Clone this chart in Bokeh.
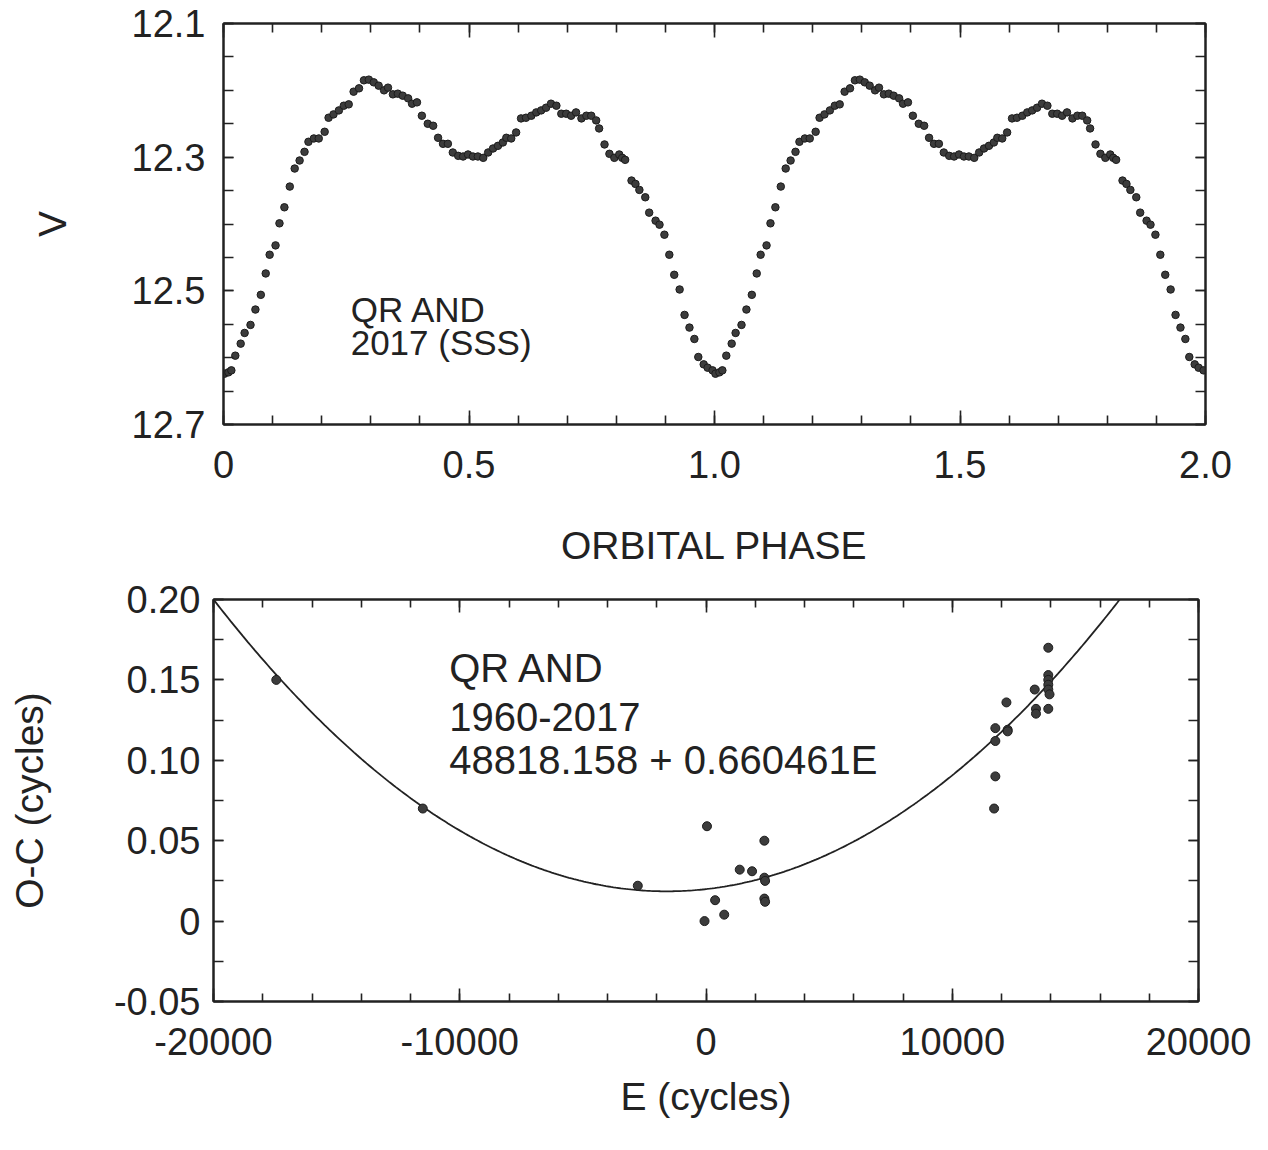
import numpy as np
from bokeh.plotting import figure
from bokeh.layouts import column, row
from bokeh.models import Range1d, LinearAxis, FixedTicker, Label, Spacer
from bokeh.embed import file_html
from bokeh.resources import INLINE

# ---------------- data: light curve (phase 0-1, plotted twice) ----------------
phase = [0.002, 0.010, 0.016, 0.024, 0.035, 0.043, 0.055, 0.065, 0.076, 0.086,
         0.094, 0.106, 0.114, 0.124, 0.135, 0.145, 0.155, 0.165, 0.173, 0.184,
         0.194, 0.206, 0.214, 0.224, 0.235, 0.245, 0.255, 0.265, 0.276, 0.286,
         0.296, 0.306, 0.316, 0.327, 0.335, 0.345, 0.355, 0.365, 0.376, 0.384,
         0.394, 0.404, 0.416, 0.427, 0.437, 0.447, 0.457, 0.467, 0.478, 0.488,
         0.498, 0.508, 0.518, 0.529, 0.539, 0.549, 0.559, 0.569, 0.576, 0.586,
         0.596, 0.606, 0.616, 0.627, 0.637, 0.647, 0.657, 0.667, 0.678, 0.688,
         0.698, 0.708, 0.718, 0.729, 0.739, 0.749, 0.759, 0.765, 0.776, 0.786,
         0.796, 0.806, 0.812, 0.818, 0.831, 0.839, 0.847, 0.859, 0.867, 0.880,
         0.888, 0.898, 0.908, 0.918, 0.929, 0.939, 0.949, 0.959, 0.967, 0.978,
         0.986, 0.996]
vmag = [12.624, 12.622, 12.619, 12.597, 12.579, 12.563, 12.551, 12.528, 12.506, 12.474,
        12.446, 12.432, 12.399, 12.375, 12.344, 12.317, 12.305, 12.292, 12.277, 12.272,
        12.272, 12.262, 12.241, 12.236, 12.230, 12.223, 12.221, 12.202, 12.197, 12.185,
        12.184, 12.188, 12.193, 12.200, 12.196, 12.206, 12.205, 12.208, 12.212, 12.220,
        12.218, 12.238, 12.250, 12.253, 12.271, 12.280, 12.280, 12.293, 12.298, 12.299,
        12.296, 12.299, 12.299, 12.301, 12.293, 12.287, 12.283, 12.278, 12.271, 12.272,
        12.263, 12.242, 12.241, 12.238, 12.233, 12.230, 12.226, 12.220, 12.223, 12.235,
        12.235, 12.238, 12.233, 12.242, 12.238, 12.238, 12.245, 12.257, 12.281, 12.295,
        12.301, 12.296, 12.301, 12.304, 12.335, 12.340, 12.349, 12.360, 12.383, 12.395,
        12.401, 12.416, 12.446, 12.476, 12.498, 12.536, 12.555, 12.572, 12.599, 12.610,
        12.615, 12.619]

phase_ticks = [0, 0.5, 1.0, 1.5, 2.0]
phase_tick_labels = ["0", "0.5", "1.0", "1.5", "2.0"]
phase_minor = [round(0.1 * i, 1) for i in range(21)]
v_ticks = [12.1, 12.3, 12.5, 12.7]
v_tick_labels = ["12.1", "12.3", "12.5", "12.7"]
v_minor = [round(12.1 + 0.05 * i, 2) for i in range(13)]

# ---------------- data: O-C diagram ----------------
epoch = [-17450, -11500, -2770, -60, 40, 370, 740, 1370, 1870, 2370, 2370, 2400,
         2370, 2400, 11700, 11750, 11750, 11750, 12200, 12250, 12250, 13350, 13400,
         13400, 13900, 13900, 13900, 13900, 13900, 13950, 13900]
oc = [0.150, 0.070, 0.022, 0.000, 0.059, 0.013, 0.004, 0.032, 0.031, 0.050, 0.027, 0.025,
      0.014, 0.012, 0.070, 0.090, 0.112, 0.120, 0.136, 0.119, 0.118, 0.144, 0.132,
      0.129, 0.170, 0.153, 0.150, 0.147, 0.144, 0.141, 0.132]
# quadratic ephemeris fit: O-C = c0 + c1*E + c2*E^2
fit_c0, fit_c1, fit_c2 = 0.0199, 1.715e-6, 5.36e-10

e_ticks = [-20000, -10000, 0, 10000, 20000]
e_tick_labels = ["-20000", "-10000", "0", "10000", "20000"]
e_minor = list(range(-20000, 20001, 2000))
oc_ticks = [-0.05, 0.0, 0.05, 0.10, 0.15, 0.20]
oc_tick_labels = ["-0.05", "0", "0.05", "0.10", "0.15", "0.20"]
oc_minor = [round(-0.05 + 0.025 * i, 3) for i in range(11)]

FONT = "Liberation Sans"
INK = "#222222"
TICK_FS = "38px"
LABEL_FS = "39px"


def style_axis(ax, major_in, minor_in, show_labels, overrides=None, standoff=0):
    ax.axis_line_color = INK
    ax.axis_line_width = 2
    ax.major_tick_in = major_in
    ax.major_tick_out = 0
    ax.minor_tick_in = minor_in
    ax.minor_tick_out = 0
    ax.major_tick_line_color = INK
    ax.minor_tick_line_color = INK
    ax.major_tick_line_width = 1.6
    ax.minor_tick_line_width = 1.6
    if show_labels:
        ax.major_label_text_font = FONT
        ax.major_label_text_font_size = TICK_FS
        ax.major_label_text_color = INK
        ax.major_label_standoff = standoff
        if overrides:
            ax.major_label_overrides = overrides
    else:
        ax.major_label_text_font_size = "1px"
        ax.major_label_text_color = None
        ax.major_label_standoff = 0
    ax.axis_label_text_font = FONT
    ax.axis_label_text_font_size = LABEL_FS
    ax.axis_label_text_font_style = "normal"
    ax.axis_label_text_color = INK


# ---------------- top panel ----------------
p1 = figure(width=1257, height=578, output_backend="svg", toolbar_location=None,
            x_range=Range1d(0, 2), y_range=Range1d(12.7, 12.1),
            min_border_left=213, min_border_right=62, min_border_top=23, min_border_bottom=154)
p1.xgrid.visible = False
p1.ygrid.visible = False
p1.outline_line_color = INK
p1.outline_line_width = 2

xt1 = FixedTicker(ticks=phase_ticks, minor_ticks=phase_minor)
yt1 = FixedTicker(ticks=v_ticks, minor_ticks=v_minor)
p1.xaxis[0].ticker = xt1
p1.yaxis[0].ticker = yt1
style_axis(p1.xaxis[0], 14, 9, True, dict(zip(phase_ticks, phase_tick_labels)), 26)
style_axis(p1.yaxis[0], 10, 10, True, dict(zip(v_ticks, v_tick_labels)), 18)
p1.xaxis[0].axis_label = "ORBITAL PHASE"
p1.xaxis[0].axis_label_standoff = 43
p1.yaxis[0].axis_label = "V"
p1.yaxis[0].axis_label_standoff = 55
ax_top1 = LinearAxis(ticker=FixedTicker(ticks=phase_ticks, minor_ticks=phase_minor))
style_axis(ax_top1, 14, 9, False)
p1.add_layout(ax_top1, "above")
ax_right1 = LinearAxis(ticker=FixedTicker(ticks=v_ticks, minor_ticks=v_minor))
style_axis(ax_right1, 10, 10, False)
p1.add_layout(ax_right1, "right")

ph_all = phase + [p + 1.0 for p in phase]
v_all = vmag + vmag
p1.scatter(ph_all, v_all, size=7.5, fill_color="#3c3c3c", line_color="#1c1c1c", line_width=1)

p1.add_layout(Label(x=0.259, y=12.528, text="QR AND", text_font=FONT, text_font_size="35px",
                    text_color=INK, text_baseline="alphabetic", text_align="left"))
p1.add_layout(Label(x=0.259, y=12.577, text="2017 (SSS)", text_font=FONT, text_font_size="35px",
                    text_color=INK, text_baseline="alphabetic", text_align="left"))

# ---------------- bottom panel ----------------
p2 = figure(width=1260, height=552, output_backend="svg", toolbar_location=None,
            x_range=Range1d(-20000, 20000), y_range=Range1d(-0.05, 0.20),
            min_border_left=213, min_border_right=62, min_border_top=21, min_border_bottom=129)
p2.xgrid.visible = False
p2.ygrid.visible = False
p2.outline_line_color = INK
p2.outline_line_width = 2

xt2 = FixedTicker(ticks=e_ticks, minor_ticks=e_minor)
yt2 = FixedTicker(ticks=oc_ticks, minor_ticks=oc_minor)
p2.xaxis[0].ticker = xt2
p2.yaxis[0].ticker = yt2
style_axis(p2.xaxis[0], 13, 8, True, dict(zip(e_ticks, e_tick_labels)), 26)
style_axis(p2.yaxis[0], 10, 10, True, dict(zip(oc_ticks, oc_tick_labels)), 13)
p2.xaxis[0].axis_label = "E (cycles)"
p2.xaxis[0].axis_label_standoff = 17
p2.yaxis[0].axis_label = "O-C (cycles)"
p2.yaxis[0].axis_label_standoff = 60
ax_top2 = LinearAxis(ticker=FixedTicker(ticks=e_ticks, minor_ticks=e_minor))
style_axis(ax_top2, 13, 8, False)
p2.add_layout(ax_top2, "above")
ax_right2 = LinearAxis(ticker=FixedTicker(ticks=oc_ticks, minor_ticks=oc_minor))
style_axis(ax_right2, 10, 10, False)
p2.add_layout(ax_right2, "right")

e_fit = np.linspace(-20000, 20000, 400)
oc_fit = fit_c0 + fit_c1 * e_fit + fit_c2 * e_fit ** 2
p2.line(e_fit, oc_fit, line_color=INK, line_width=1.8)
p2.scatter(epoch, oc, size=9, fill_color="#3c3c3c", line_color="#1c1c1c", line_width=1)

for txt, yy in [("QR AND", 0.1577), ("1960-2017", 0.1272), ("48818.158 + 0.660461E", 0.0999)]:
    p2.add_layout(Label(x=-10430, y=yy, text=txt, text_font=FONT, text_font_size="40px",
                        text_color=INK, text_baseline="alphabetic", text_align="left"))

layout = column(row(Spacer(width=10, height=578), p1, spacing=0), p2, spacing=0)
open("out.html", "w").write(file_html(layout, INLINE))
